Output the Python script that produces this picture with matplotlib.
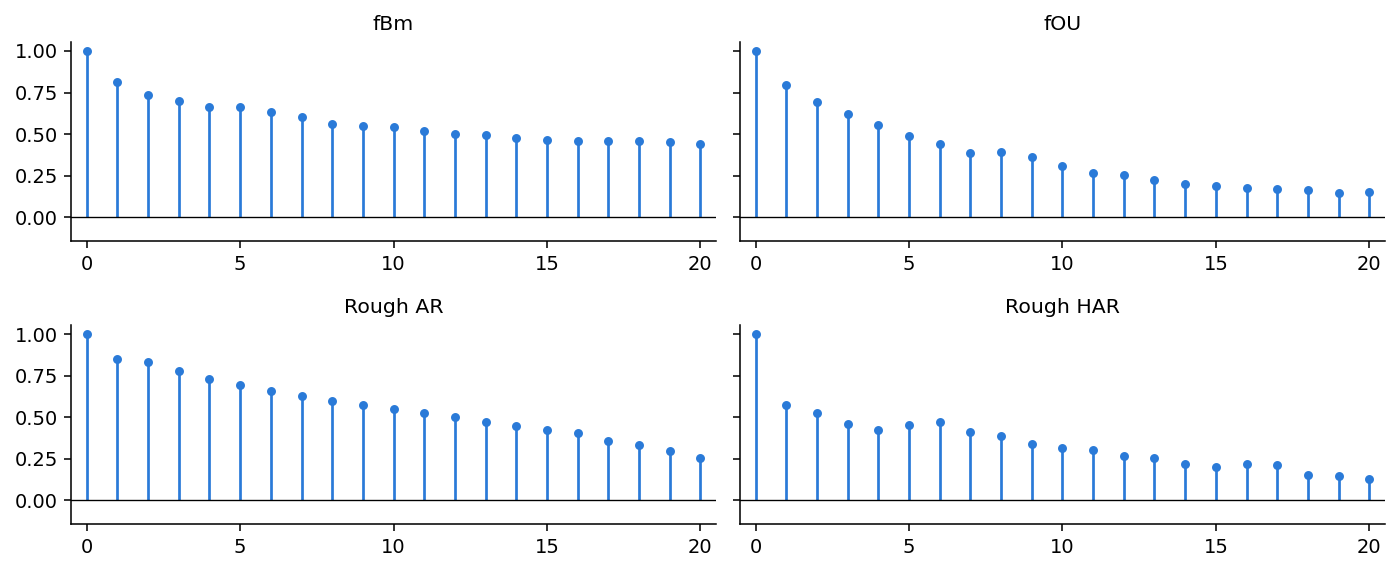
import numpy as np
import matplotlib
matplotlib.use("Agg")
import matplotlib.pyplot as plt

# Lags and autocorrelation values
lags = np.arange(21)

acf_fbm = [1.00, 0.811, 0.735, 0.697, 0.665, 0.661, 0.631, 0.600, 0.560, 0.548, 0.542,
           0.516, 0.500, 0.496, 0.476, 0.466, 0.456, 0.458, 0.458, 0.454, 0.442]
acf_fou = [1.00, 0.797, 0.691, 0.622, 0.554, 0.488, 0.438, 0.388, 0.390, 0.359, 0.305,
           0.267, 0.253, 0.225, 0.197, 0.185, 0.173, 0.171, 0.161, 0.145, 0.153]
acf_rough_ar = [1.00, 0.851, 0.829, 0.775, 0.730, 0.694, 0.656, 0.630, 0.600, 0.571, 0.549,
                0.525, 0.503, 0.471, 0.449, 0.423, 0.404, 0.358, 0.334, 0.294, 0.252]
acf_rough_har = [1.00, 0.573, 0.523, 0.459, 0.425, 0.453, 0.471, 0.408, 0.388, 0.340, 0.312,
                 0.302, 0.264, 0.254, 0.217, 0.197, 0.217, 0.211, 0.149, 0.147, 0.129]

titles = ["fBm", "fOU", "Rough AR", "Rough HAR"]
series = [acf_fbm, acf_fou, acf_rough_ar, acf_rough_har]

color = "#2a7ad8"

fig, axes = plt.subplots(2, 2, figsize=(10, 573 / 140), dpi=140, sharey=True)

for ax, title, vals in zip(axes.flat, titles, series):
    ax.vlines(lags, 0, vals, color=color, linewidth=1.4)
    ax.plot(lags, vals, "o", color=color, markersize=3.6)
    ax.axhline(0, color="black", linewidth=0.7)
    ax.set_title(title, fontsize=10.5)
    ax.set_xlim(-0.5, 20.5)
    ax.set_ylim(-0.145, 1.055)
    ax.set_xticks([0, 5, 10, 15, 20])
    ax.set_yticks([0, 0.25, 0.5, 0.75, 1.0])
    ax.spines["top"].set_visible(False)
    ax.spines["right"].set_visible(False)

fig.subplots_adjust(left=0.051, right=0.989, top=0.927, bottom=0.085,
                    wspace=0.038, hspace=0.42)
fig.savefig("out.png")
